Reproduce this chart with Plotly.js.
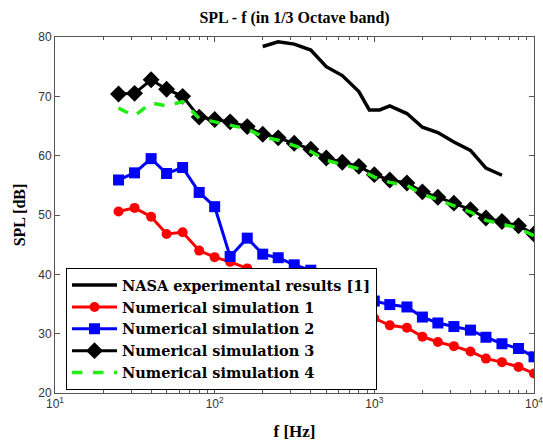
<!DOCTYPE html>
<html><head><meta charset="utf-8">
<script src="https://cdn.plot.ly/plotly-3.0.1.min.js"></script>
<style>body{margin:0;padding:0;background:#fff}#chart{width:543px;height:443px}</style>
</head><body><div id="chart"></div>
<script>
const bands = [25,31.5,40,50,63,80,100,125,160,200,250,315,400,500,630,800,1000,1250,1600,2000,2500,3150,4000,5000,6300,8000,10000];
const nasaFreq = [200,250,315,400,500,630,800,930,1080,1250,1600,2000,2500,3150,4000,5000,6300];
const nasaSPL = [78.4,79.2,78.8,77.8,75.0,73.5,70.8,67.7,67.7,68.4,67.1,64.8,63.9,62.3,60.9,57.9,56.7];
const sim1 = [50.6,51.2,49.7,46.8,47.1,44.0,42.9,42.1,41.0,40.1,39.2,38.3,37.3,36.2,35.1,34.0,32.6,31.4,31.0,29.5,28.6,27.9,27.0,25.8,25.2,24.4,23.3];
const sim2 = [55.9,57.1,59.5,57.0,58.0,53.8,51.4,43.0,46.1,43.4,42.8,41.6,40.7,39.5,38.2,36.8,35.5,34.9,34.5,32.8,31.8,31.2,30.6,29.4,28.3,27.5,26.1];
const sim3 = [70.4,70.5,72.8,71.2,70.0,66.5,66.1,65.7,64.9,63.6,63.0,62.1,61.1,59.6,58.9,58.2,56.8,55.9,55.4,53.9,53.0,52.0,50.9,49.5,48.9,48.2,46.8];
const sim4 = [68.0,66.7,68.9,68.4,69.1,66.3,65.7,65.2,64.5,63.2,62.6,61.7,60.7,59.2,58.5,57.8,56.4,55.5,55.0,53.5,52.6,51.6,50.5,49.1,48.5,47.8,46.5];
const names = ['NASA experimental results [1]','Numerical simulation 1','Numerical simulation 2','Numerical simulation 3','Numerical simulation 4'];
const xTickVals = [10,100,1000,10000];
const xTickText = ['10<sup>1</sup>','10<sup>2</sup>','10<sup>3</sup>','10<sup>4</sup>'];

const traces = [
 {x:nasaFreq,y:nasaSPL,name:names[0],mode:'lines',line:{color:'#000',width:3.5}},
 {x:bands,y:sim1,name:names[1],mode:'lines+markers',line:{color:'#ff0000',width:3},marker:{symbol:'circle',size:10,color:'#ff0000'}},
 {x:bands,y:sim2,name:names[2],mode:'lines+markers',line:{color:'#0000ff',width:3},marker:{symbol:'square',size:11,color:'#0000ff'}},
 {x:bands,y:sim3,name:names[3],mode:'lines+markers',line:{color:'#000',width:3},marker:{symbol:'diamond',size:13,color:'#000'}},
 {x:bands,y:sim4,name:names[4],mode:'lines',line:{color:'#22ee11',width:3.5,dash:'dash'}}
];
const serif = 'Liberation Serif, Times New Roman, serif';
const sans = 'Liberation Sans, Arial, sans-serif';
const layout = {
 width:543,height:443,
 font:{family:serif,color:'#000'},
 margin:{l:55,r:9,t:37,b:50},
 paper_bgcolor:'#fff',plot_bgcolor:'#fff',
 title:{text:'<b>SPL - f (in 1/3 Octave band)</b>',font:{family:serif,size:16,color:'#000'},x:0.5,xref:'paper',y:0.96,yref:'container',yanchor:'middle'},
 xaxis:{type:'log',range:[1,4],tickvals:xTickVals,ticktext:xTickText,ticks:'inside',ticklen:5,tickcolor:'#555',
   ticklabeloverflow:'allow',
   minor:{ticks:'inside',ticklen:3,tickcolor:'#555',dtick:'D1',showgrid:false},
   showline:true,linecolor:'#555',linewidth:1,mirror:'ticks',showgrid:false,zeroline:false,
   tickfont:{family:sans,size:12,color:'#333'},
   title:{text:'<b>f [Hz]</b>',font:{family:serif,size:17,color:'#000'},standoff:14}},
 yaxis:{range:[20,80],dtick:10,ticks:'inside',ticklen:5,tickcolor:'#555',
   showline:true,linecolor:'#555',linewidth:1,mirror:'ticks',showgrid:false,zeroline:false,
   tickfont:{family:sans,size:12,color:'#333'},
   title:{text:'<b>SPL [dB]</b>',font:{family:serif,size:16,color:'#000'},standoff:8}},
 legend:{x:0.023,y:0.008,xanchor:'left',yanchor:'bottom',bgcolor:'#fff',bordercolor:'#000',borderwidth:1,
   font:{family:'DejaVu Serif',size:14.5,color:'#000',weight:'bold'},itemwidth:45,tracegroupgap:0},
 showlegend:true
};
Plotly.newPlot('chart',traces,layout,{displayModeBar:false,staticPlot:true});
</script></body></html>
